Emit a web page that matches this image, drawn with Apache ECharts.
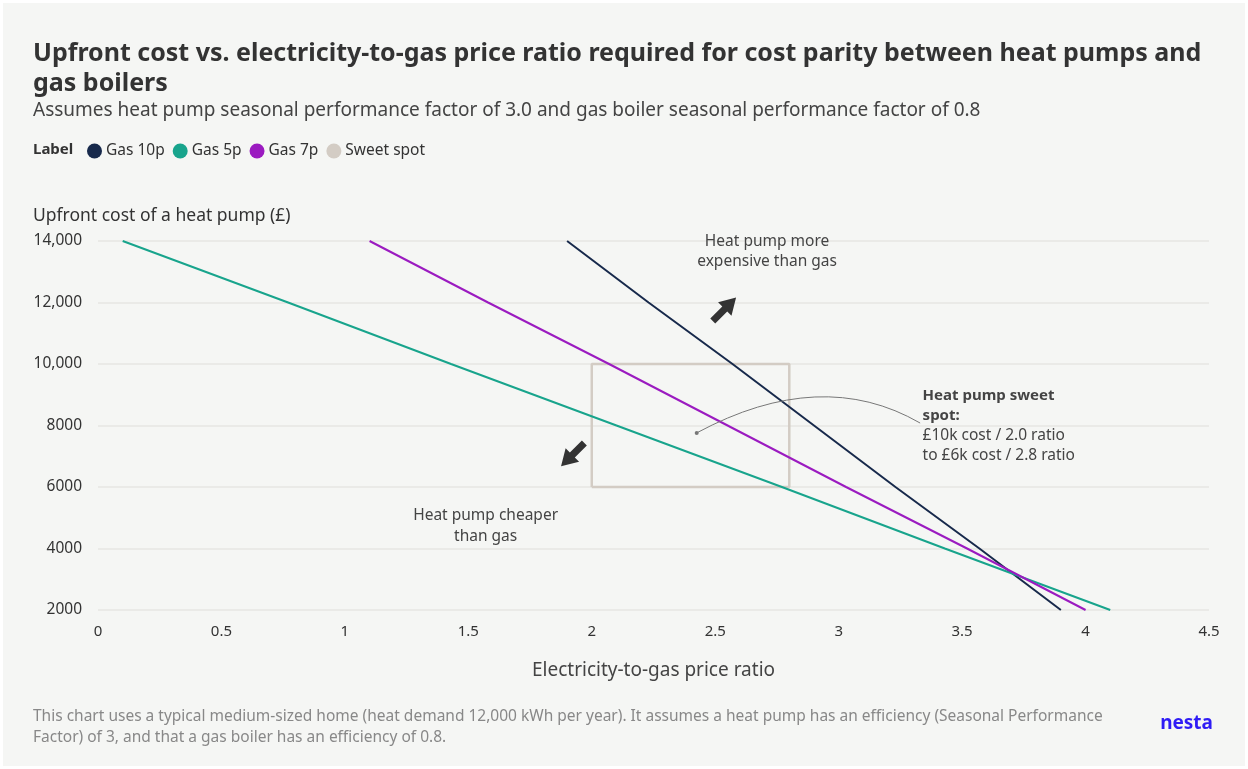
<!DOCTYPE html>
<html>
<head>
<meta charset="utf-8">
<script src="https://cdn.jsdelivr.net/npm/echarts@6/dist/echarts.min.js"></script>
<style>
html,body{margin:0;padding:0;background:#fff;}
#c{width:1248px;height:769px;background:#f5f6f4;box-shadow:inset 0 0 0 3px #fff;}
</style>
</head>
<body>
<div id="c"></div>
<script>
// ---- data ----
const costLevels = [14000, 12000, 10000, 8000, 6000, 4000, 2000];
const gas10Ratio = [1.9, 2.23, 2.57, 2.9, 3.23, 3.57, 3.9];
const gas5Ratio  = [0.1, 0.77, 1.43, 2.1, 2.77, 3.43, 4.1];
const gas7Ratio  = [1.1, 1.58, 2.07, 2.55, 3.03, 3.52, 4.0];
const sweetRatio = [2.0, 2.0, 2.8, 2.8, 2.0];
const sweetCost  = [6000, 10000, 10000, 6000, 6000];
const yTicks = [2000, 4000, 6000, 8000, 10000, 12000, 14000];
const yTickLabels = ['2000', '4000', '6000', '8000', '10,000', '12,000', '14,000'];
const seriesNames = ['Gas 10p', 'Gas 5p', 'Gas 7p', 'Sweet spot'];
const seriesColors = ['#17294b', '#18a48c', '#9b1bc0', '#d3ccc4'];

const FONT = '"Noto Sans", "Open Sans", sans-serif';
const pair = (xs, ys) => xs.map((x, i) => [x, ys[i]]);

const chart = echarts.init(document.getElementById('c'), null, {renderer: 'canvas'});

const option = {
  backgroundColor: 'transparent',
  animation: false,
  textStyle: {fontFamily: FONT},
  grid: {left: 98, right: 39, top: 241, bottom: 159, containLabel: false},
  legend: {
    left: 82, top: 138,
    itemWidth: 15, itemHeight: 15, itemGap: 8,
    icon: 'circle',
    data: seriesNames,
    textStyle: {fontFamily: FONT, fontSize: 15.5, color: '#333', padding: [0, 0, 0, -1]}
  },
  xAxis: {
    type: 'value', min: 0, max: 4.5, interval: 0.5,
    name: 'Electricity-to-gas price ratio',
    nameLocation: 'middle', nameGap: 51,
    nameTextStyle: {fontFamily: FONT, fontSize: 19, color: '#444'},
    axisLine: {show: false}, axisTick: {show: false},
    splitLine: {show: false},
    axisLabel: {fontFamily: FONT, fontSize: 15, color: '#333', margin: 14}
  },
  yAxis: {
    type: 'value', min: 2000, max: 14000, interval: 2000,
    axisLine: {show: false}, axisTick: {show: false},
    splitLine: {show: true, lineStyle: {color: '#e6e6e3', width: 1.5}},
    axisLabel: {
      fontFamily: FONT, fontSize: 15.5, color: '#333', margin: 16,
      formatter: v => { const i = yTicks.indexOf(v); return i >= 0 ? yTickLabels[i] : ''; }
    }
  },
  series: [
    {name: 'Sweet spot', type: 'line', data: pair(sweetRatio, sweetCost), symbol: 'none', z: 1,
     color: seriesColors[3], lineStyle: {color: seriesColors[3], width: 2.5}},
    {name: 'Gas 10p', type: 'line', data: pair(gas10Ratio, costLevels), symbol: 'none', z: 3,
     color: seriesColors[0], lineStyle: {color: seriesColors[0], width: 2}},
    {name: 'Gas 5p', type: 'line', data: pair(gas5Ratio, costLevels), symbol: 'none', z: 3,
     color: seriesColors[1], lineStyle: {color: seriesColors[1], width: 2}},
    {name: 'Gas 7p', type: 'line', data: pair(gas7Ratio, costLevels), symbol: 'none', z: 3,
     color: seriesColors[2], lineStyle: {color: seriesColors[2], width: 2}}
  ]
};
chart.setOption(option);

const P = (x, y) => chart.convertToPixel({gridIndex: 0}, [x, y]);
const txt = (x, y, text, font, fill, align) => ({
  type: 'text', x: x, y: y, silent: true,
  style: {text: text, font: font, fill: fill, align: align || 'left', verticalAlign: 'middle'}
});
const arrowPts = [[0,-3.5],[17,-3.5],[17,-9.5],[33,0],[17,9.5],[17,3.5],[0,3.5]];

const up1 = P(2.71, 14000), cheap = P(1.57, 5100), lab = P(3.34, 9000);
const aUp = P(2.49, 11400), aDn = P(1.97, 7430);
const cStart = P(3.33, 8080), cEnd = P(2.425, 7760), cCtrl = P(2.93, 9935);

const graphics = [
  txt(33, 54, 'Upfront cost vs. electricity-to-gas price ratio required for cost parity between heat pumps and', 'bold 25px ' + FONT, '#333'),
  txt(33, 84, 'gas boilers', 'bold 25px ' + FONT, '#333'),
  txt(33, 111, 'Assumes heat pump seasonal performance factor of 3.0 and gas boiler seasonal performance factor of 0.8', '19px ' + FONT, '#444'),
  txt(33, 150, 'Label', 'bold 15px ' + FONT, '#333'),
  txt(33, 216, 'Upfront cost of a heat pump (£)', '17.5px ' + FONT, '#333'),
  txt(up1[0], up1[1] + 1, 'Heat pump more', '15.5px ' + FONT, '#444', 'center'),
  txt(up1[0], up1[1] + 21, 'expensive than gas', '15.5px ' + FONT, '#444', 'center'),
  txt(cheap[0], cheap[1] + 1, 'Heat pump cheaper', '15.5px ' + FONT, '#444', 'center'),
  txt(cheap[0], cheap[1] + 22, 'than gas', '15.5px ' + FONT, '#444', 'center'),
  txt(lab[0], lab[1] + 1, 'Heat pump sweet', 'bold 15px ' + FONT, '#444'),
  txt(lab[0], lab[1] + 21, 'spot:', 'bold 15px ' + FONT, '#444'),
  txt(lab[0], lab[1] + 41, '£10k cost / 2.0 ratio', '15.5px ' + FONT, '#444'),
  txt(lab[0], lab[1] + 61, 'to £6k cost / 2.8 ratio', '15.5px ' + FONT, '#444'),
  {type: 'bezierCurve', silent: true, z: 10,
   shape: {x1: cStart[0], y1: cStart[1], x2: cEnd[0], y2: cEnd[1], cpx1: cCtrl[0], cpy1: cCtrl[1]},
   style: {stroke: '#777', lineWidth: 1, fill: null}},
  {type: 'circle', silent: true, z: 10, shape: {cx: cEnd[0], cy: cEnd[1], r: 2}, style: {fill: '#777'}},
  {type: 'polygon', silent: true, z: 10, x: aUp[0], y: aUp[1], rotation: Math.PI / 4,
   shape: {points: arrowPts}, style: {fill: '#333'}},
  {type: 'polygon', silent: true, z: 10, x: aDn[0], y: aDn[1], rotation: Math.PI * 5 / 4,
   shape: {points: arrowPts}, style: {fill: '#333'}},
  txt(33, 717, 'This chart uses a typical medium-sized home (heat demand 12,000 kWh per year). It assumes a heat pump has an efficiency (Seasonal Performance', '15.5px ' + FONT, '#888'),
  txt(33, 738, 'Factor) of 3, and that a gas boiler has an efficiency of 0.8.', '15.5px ' + FONT, '#888'),
  txt(1213, 724, 'nesta', 'bold 19px ' + FONT, '#2f1cf5', 'right')
];
chart.setOption({graphic: {elements: graphics}});
</script>
</body>
</html>
